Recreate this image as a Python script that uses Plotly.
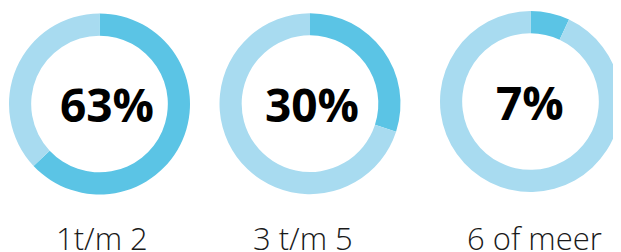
import plotly.graph_objects as go

categories = ["1t/m 2", "3 t/m 5", "6 of meer"]
shares = [63, 30, 7]
center_labels = ["63%", "30%", "7%"]

W, H = 621, 252
OFF = 8  # page body margin offset
centers = [(99.5, 104.0), (310.0, 103.7), (530.5, 101.5)]
text_x = [106.5, 311.5, 530.0]
R = 90.5
dark = "#5BC4E5"
light = "#A8DBF0"

fig = go.Figure()
for i, (cat, val) in enumerate(zip(categories, shares)):
    cx, cy = centers[i][0] - OFF, centers[i][1] - OFF
    fig.add_trace(go.Pie(
        values=[val, 100 - val],
        labels=[cat, "rest"],
        hole=0.755,
        sort=False,
        direction="clockwise",
        rotation=0,
        textinfo="none",
        hoverinfo="skip",
        marker=dict(colors=[dark, light], line=dict(width=0)),
        domain=dict(x=[(cx - R) / W, (cx + R) / W],
                    y=[(H - cy - R) / H, (H - cy + R) / H]),
        showlegend=False,
    ))
    fig.add_annotation(
        x=(text_x[i] - OFF) / W, y=(H - cy) / H, xref="paper", yref="paper",
        text=center_labels[i], showarrow=False,
        xanchor="center", yanchor="middle",
        font=dict(family="Open Sans", size=46, color="#000000", weight=700),
    )

label_x = [102, 302.5, 534.5]
for i, cat in enumerate(categories):
    fig.add_annotation(
        x=(label_x[i] - OFF) / W, y=(H - (238 - OFF)) / H, xref="paper", yref="paper",
        text=cat, showarrow=False, xanchor="center", yanchor="middle",
        font=dict(family="Open Sans", size=31, color="#1a1a1a", weight=300),
    )

fig.update_layout(
    width=W, height=H,
    margin=dict(l=0, r=0, t=0, b=0),
    paper_bgcolor="white", plot_bgcolor="white",
    showlegend=False,
)
fig.write_html("out.html")
